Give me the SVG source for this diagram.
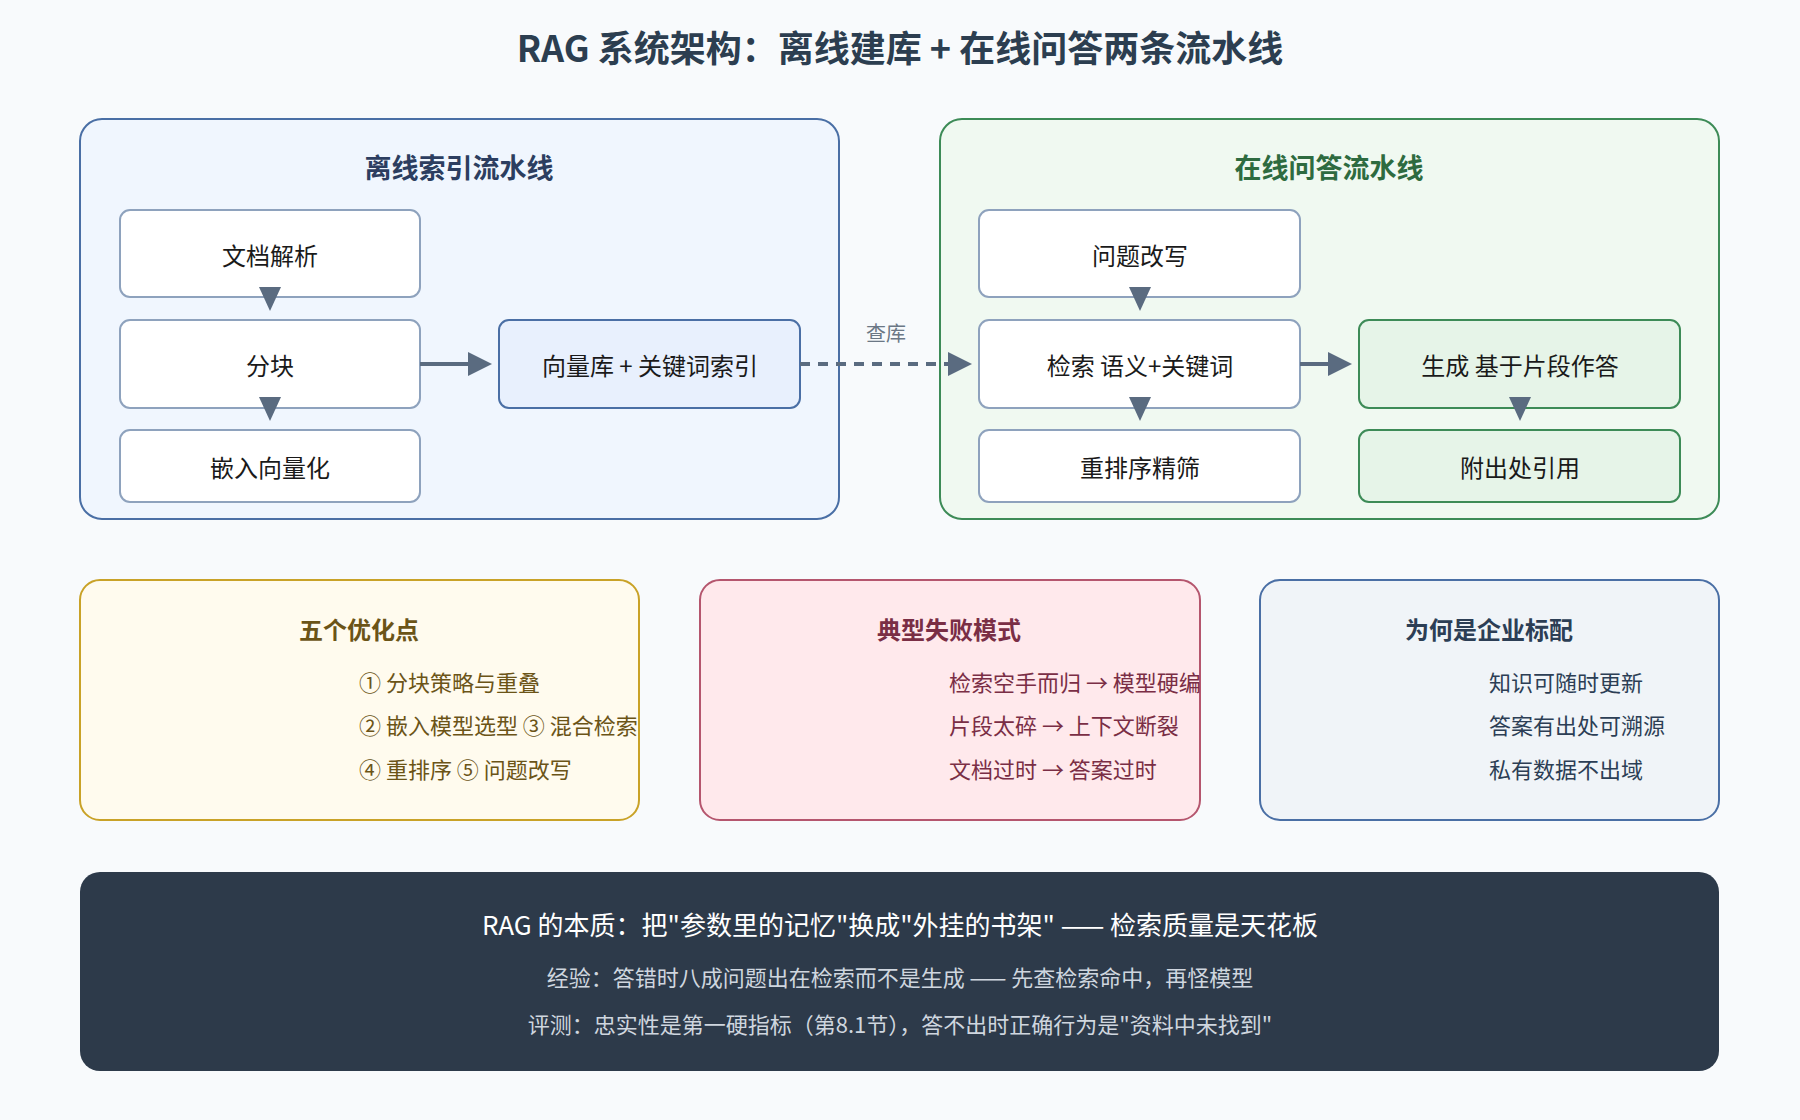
<svg xmlns="http://www.w3.org/2000/svg" width="1800" height="1120" viewBox="0 0 1800 1120">
<defs>
<style>
text{font-family:"Noto Sans CJK SC","Noto Sans",sans-serif;dominant-baseline:central}
.t{font-size:24px;fill:#1a1a1a;text-anchor:middle}
.pt{font-size:27px;font-weight:bold;text-anchor:middle}
.box{fill:#fff;stroke:#8ea2bd;stroke-width:2}
.gbox{fill:#e6f4e8;stroke:#3d8b57;stroke-width:2}
.it{font-size:22px}
.ln{stroke:#5a6b80;stroke-width:4;fill:none}
.ah{fill:#5a6b80}
</style>
</defs>
<rect width="1800" height="1120" fill="#f8fafc"/>
<text x="900" y="46" font-size="36" font-weight="bold" fill="#2c3e50" text-anchor="middle">RAG 系统架构：离线建库 + 在线问答两条流水线</text>

<g id="offline">
<rect x="80" y="119" width="759" height="400" rx="22" fill="#f0f6fe" stroke="#4a6fa5" stroke-width="2"/>
<text class="pt" x="459" y="166" fill="#2c3e60">离线索引流水线</text>
</g>
<g id="n1"><rect class="box" x="120" y="210" width="300" height="87" rx="10"/><text class="t" x="270" y="254">文档解析</text></g>
<g id="n2"><rect class="box" x="120" y="320" width="300" height="88" rx="10"/><text class="t" x="270" y="364">分块</text></g>
<g id="n3"><rect class="box" x="120" y="430" width="300" height="72" rx="10"/><text class="t" x="270" y="466">嵌入向量化</text></g>
<g id="n4"><rect x="499" y="320" width="301" height="88" rx="10" fill="#e8f0fd" stroke="#4a6fa5" stroke-width="2"/><text class="t" x="650" y="364">向量库 + 关键词索引</text></g>

<g id="online">
<rect x="940" y="119" width="779" height="400" rx="22" fill="#f0f9f1" stroke="#3d8b57" stroke-width="2"/>
<text class="pt" x="1329" y="166" fill="#2e6b40">在线问答流水线</text>
</g>
<g id="n5"><rect class="box" x="979" y="210" width="321" height="87" rx="10"/><text class="t" x="1140" y="254">问题改写</text></g>
<g id="n6"><rect class="box" x="979" y="320" width="321" height="88" rx="10"/><text class="t" x="1140" y="364">检索 语义+关键词</text></g>
<g id="n7"><rect class="box" x="979" y="430" width="321" height="72" rx="10"/><text class="t" x="1140" y="466">重排序精筛</text></g>
<g id="n8"><rect class="gbox" x="1359" y="320" width="321" height="88" rx="10"/><text class="t" x="1520" y="364">生成 基于片段作答</text></g>
<g id="n9"><rect class="gbox" x="1359" y="430" width="321" height="72" rx="10"/><text class="t" x="1520" y="466">附出处引用</text></g>

<g id="connectors">
<line class="ln" x1="270" y1="297" x2="270" y2="305"/><polygon class="ah" points="259,287 281,287 270,311"/>
<line class="ln" x1="270" y1="408" x2="270" y2="415"/><polygon class="ah" points="259,397 281,397 270,421"/>
<line class="ln" x1="420" y1="364" x2="472" y2="364"/><polygon class="ah" points="468,352 492,364 468,376"/>
<line class="ln" x1="800" y1="364" x2="950" y2="364" stroke-dasharray="10 8" stroke-width="3"/><polygon class="ah" points="948,352 972,364 948,376"/>
<text x="886" y="332" font-size="20" fill="#6b7785" text-anchor="middle">查库</text>
<line class="ln" x1="1140" y1="297" x2="1140" y2="305"/><polygon class="ah" points="1129,287 1151,287 1140,311"/>
<line class="ln" x1="1140" y1="408" x2="1140" y2="415"/><polygon class="ah" points="1129,397 1151,397 1140,421"/>
<line class="ln" x1="1300" y1="364" x2="1332" y2="364"/><polygon class="ah" points="1328,352 1352,364 1328,376"/>
<line class="ln" x1="1520" y1="408" x2="1520" y2="415"/><polygon class="ah" points="1509,397 1531,397 1520,421"/>
</g>

<g id="opt">
<rect x="80" y="580" width="559" height="240" rx="20" fill="#fffbee" stroke="#c9a227" stroke-width="2"/>
<text class="pt" x="359" y="628" font-size="24" style="font-size:24px" fill="#6b5417">五个优化点</text>
<text class="it" x="359" y="681" fill="#6b5417">① 分块策略与重叠</text>
<text class="it" x="359" y="724" fill="#6b5417">② 嵌入模型选型 ③ 混合检索</text>
<text class="it" x="359" y="768" fill="#6b5417">④ 重排序 ⑤ 问题改写</text>
</g>
<g id="fail">
<rect x="700" y="580" width="500" height="240" rx="20" fill="#ffe9ec" stroke="#b5566e" stroke-width="2"/>
<text class="pt" x="949" y="628" style="font-size:24px" fill="#7a2e45">典型失败模式</text>
<text class="it" x="949" y="681" fill="#7a2e45">检索空手而归 → 模型硬编</text>
<text class="it" x="949" y="724" fill="#7a2e45">片段太碎 → 上下文断裂</text>
<text class="it" x="949" y="768" fill="#7a2e45">文档过时 → 答案过时</text>
</g>
<g id="why">
<rect x="1260" y="580" width="459" height="240" rx="20" fill="#f0f4f8" stroke="#4a6fa5" stroke-width="2"/>
<text class="pt" x="1489" y="628" style="font-size:24px" fill="#2c3e55">为何是企业标配</text>
<text class="it" x="1489" y="681" fill="#2c3e55">知识可随时更新</text>
<text class="it" x="1489" y="724" fill="#2c3e55">答案有出处可溯源</text>
<text class="it" x="1489" y="768" fill="#2c3e55">私有数据不出域</text>
</g>
<g id="summary">
<rect x="80" y="872" width="1639" height="199" rx="20" fill="#2d3a4a"/>
<text x="900" y="923" font-size="26" fill="#ffffff" text-anchor="middle">RAG 的本质：把"参数里的记忆"换成"外挂的书架" —— 检索质量是天花板</text>
<text x="900" y="976" font-size="22" fill="#cfd6df" text-anchor="middle">经验：答错时八成问题出在检索而不是生成 —— 先查检索命中，再怪模型</text>
<text x="900" y="1023" font-size="22" fill="#cfd6df" text-anchor="middle">评测：忠实性是第一硬指标（第8.1节），答不出时正确行为是"资料中未找到"</text>
</g>
</svg>
